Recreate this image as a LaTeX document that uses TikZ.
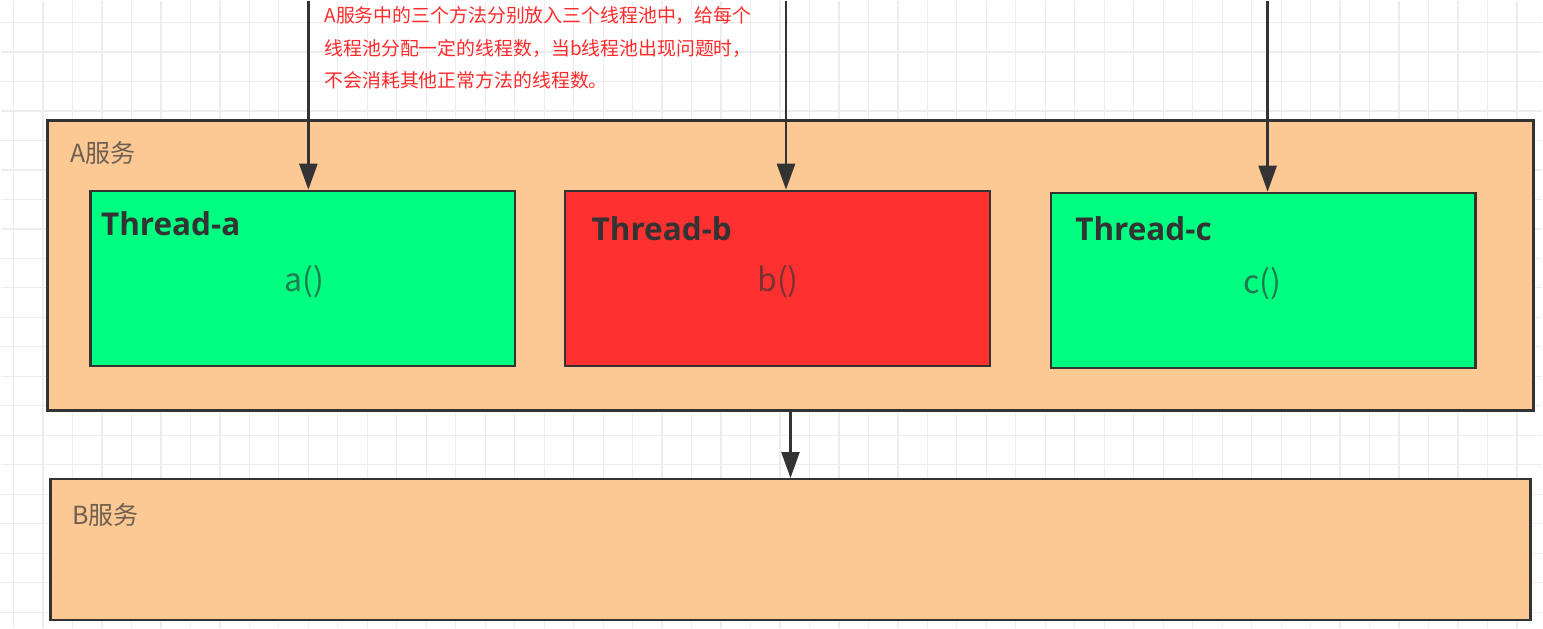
\documentclass[tikz,border=0pt]{standalone}
\usepackage{fontspec}
\setmainfont{Open Sans}
\newfontfamily\cjk{Noto Sans CJK SC}
\usepackage{xcolor}
\usetikzlibrary{arrows.meta,positioning}
\definecolor{peach}{HTML}{FCC995}
\definecolor{mint}{HTML}{00FF80}
\definecolor{alarm}{HTML}{FF3030}
\definecolor{edge}{HTML}{333333}
\definecolor{gridgray}{HTML}{EDEDED}
\definecolor{notered}{HTML}{FF2A2A}

\begin{document}
\begin{tikzpicture}[x=1pt,y=-1pt,
  svcbox/.style={draw=edge, line width=2.5pt, fill=peach, inner sep=0pt},
  poolbox/.style={draw=edge, line width=2.5pt, inner sep=0pt, minimum width=425pt, minimum height=175pt},
  svclabel/.style={font=\cjk\fontsize{25}{28}\selectfont, text=edge, text opacity=0.7, anchor=west},
  poollabel/.style={font=\bfseries\fontsize{31.5}{34}\selectfont, text=edge, anchor=west},
  method/.style={font=\cjk\fontsize{32}{34}\selectfont, text=edge, text opacity=0.65},
  arr/.style={draw=edge, line width=2.5pt, -{Triangle[length=26pt,width=18pt]}}]
  % Background grid
  \fill[white] (0,0) rectangle (1543,628);
  \foreach \gx in {13,42.5,...,1543} \draw[gridgray, line width=1.2pt] (\gx,0) -- (\gx,628);
  \foreach \gy in {22,51.5,...,628} \draw[gridgray, line width=1.2pt] (0,\gy) -- (1543,\gy);
  \useasboundingbox (0,0) rectangle (1543,628);
  % Services
  \node[svcbox, minimum width=1487pt, minimum height=290pt] (svcA) at (790.5,265) {};
  \node[svcbox, minimum width=1481pt, minimum height=141pt] (svcB) at (790.5,549.5) {};
  \node[svclabel] (labA) at (66,153) {A服务};
  \node[svclabel] (labB) at (68,515) {B服务};
  % Thread pools
  \node[poolbox, fill=mint] (ta) at (302.5,278) {};
  \node[poolbox, fill=alarm] (tb) at (777.5,278) {};
  \node[poolbox, fill=mint] (tc) at (1263.5,280) {};
  \node[poollabel] (nameA) at (97,223) {Thread-a};
  \node[poollabel] (nameB) at (588,228) {Thread-b};
  \node[poollabel] (nameC) at (1072,228) {Thread-c};
  \node[method] (ma) at (304,281) {a()};
  \node[method] (mb) at (778,281) {b()};
  \node[method] (mc) at (1263,283) {c()};
  % Requests
  \coordinate (inA) at (308,0);
  \coordinate (inB) at (786,0);
  \coordinate (inC) at (1268,0);
  \draw[arr] (inA) -- (inA |- ta.north);
  \draw[arr] (inB) -- (inB |- tb.north);
  \draw[arr] (inC) -- (inC |- tc.north);
  \draw[arr] (svcA.south) -- (svcB.north);
  % Note
  \node[font=\cjk\fontsize{18.9}{32.5}\selectfont, text=notered, align=left, anchor=north west, inner sep=0pt] (note) at (324,6)
    {A服务中的三个方法分别放入三个线程池中，给每个\\线程池分配一定的线程数，当b线程池出现问题时，\\不会消耗其他正常方法的线程数。};
\end{tikzpicture}
\end{document}
